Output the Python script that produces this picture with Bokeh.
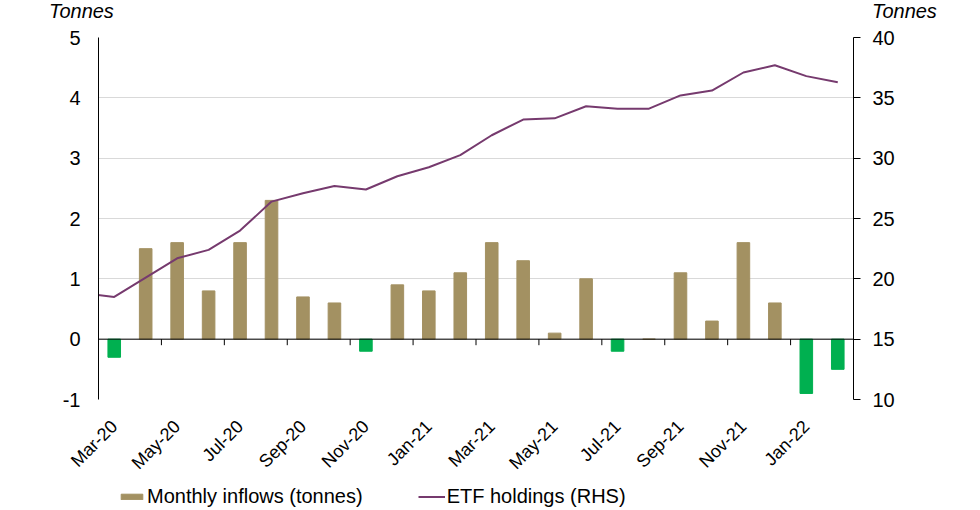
from bokeh.plotting import figure
from bokeh.layouts import column, row
from bokeh.models import (ColumnDataSource, Range1d, LinearAxis, FixedTicker, Span,
                          Legend, LegendItem, Div)
from bokeh.embed import file_html
from bokeh.resources import INLINE

# monthly ETF gold flows, Mar-20 .. Feb-22
months = ["Mar-20", "Apr-20", "May-20", "Jun-20", "Jul-20", "Aug-20", "Sep-20", "Oct-20",
          "Nov-20", "Dec-20", "Jan-21", "Feb-21", "Mar-21", "Apr-21", "May-21", "Jun-21",
          "Jul-21", "Aug-21", "Sep-21", "Oct-21", "Nov-21", "Dec-21", "Jan-22", "Feb-22"]
inflows = [-0.3, 1.5, 1.6, 0.8, 1.6, 2.3, 0.7, 0.6, -0.2, 0.9, 0.8, 1.1,
           1.6, 1.3, 0.1, 1.0, -0.2, 0.0, 1.1, 0.3, 1.6, 0.6, -0.9, -0.5]

# holdings start one month earlier (Feb-20), that point sits just off the left edge
holdings_months = ["Feb-20"] + months
holdings = [18.8, 18.5, 20.1, 21.7, 22.4, 24.0, 26.4, 27.1, 27.7, 27.4, 28.5, 29.25, 30.25,
            31.9, 33.2, 33.3, 34.3, 34.1, 34.1, 35.2, 35.6, 37.1, 37.7, 36.8, 36.3]

left_ticks = [-1, 0, 1, 2, 3, 4, 5]
right_ticks = [10, 15, 20, 25, 30, 35, 40]
tick_months = months[::2]
unit_label = "Tonnes"
series_labels = ["Monthly inflows (tonnes)", "ETF holdings (RHS)"]

TAN = "#A39162"
GREEN = "#00B050"
PURPLE = "#763A6E"
FONT = "Liberation Sans"

bar_src = ColumnDataSource(dict(
    x=[i + 0.5 for i in range(len(months))],
    top=inflows,
    color=[TAN if v >= 0 else GREEN for v in inflows],
))
line_src = ColumnDataSource(dict(
    x=[i - 0.5 for i in range(len(holdings_months))],
    y=holdings,
))

fig = figure(width=972, height=462, output_backend="svg", toolbar_location=None,
             x_range=Range1d(0, len(months)), y_range=Range1d(left_ticks[0], left_ticks[-1]),
             min_border_left=98, min_border_right=119, min_border_top=15, min_border_bottom=85)
fig.outline_line_color = None
fig.xgrid.visible = False
fig.ygrid.ticker = FixedTicker(ticks=left_ticks)
fig.ygrid.grid_line_color = "#D9D9D9"

fig.extra_y_ranges = {"rhs": Range1d(right_ticks[0], right_ticks[-1])}

fig.vbar(x="x", top="top", bottom=0, width=0.4, color="color", source=bar_src)
fig.line(x="x", y="y", source=line_src, y_range_name="rhs", line_color=PURPLE, line_width=2)

# zero line with tick marks at every second month boundary
fig.add_layout(Span(location=0, dimension="width", line_color="black", line_width=1))
bounds = list(range(2, len(months), 2))
fig.segment(x0=bounds, y0=[0] * len(bounds), x1=bounds, y1=[-0.1] * len(bounds),
            line_color="black", line_width=1)

# bottom axis: only labels
xa = fig.xaxis[0]
xa.ticker = FixedTicker(ticks=[i + 0.5 for i in range(0, len(months), 2)])
xa.major_label_overrides = {i + 0.5: m for i, m in zip(range(0, len(months), 2), tick_months)}
xa.major_label_orientation = 0.785398
xa.axis_line_color = None
xa.major_tick_line_color = None
xa.minor_tick_line_color = None
xa.major_label_standoff = 18
xa.major_label_text_font = FONT
xa.major_label_text_font_size = "18px"
xa.major_label_text_color = "black"

ya = fig.yaxis[0]
ya.ticker = FixedTicker(ticks=left_ticks)
ya.major_label_overrides = {t: str(t) for t in left_ticks}
ya.axis_line_color = "black"
ya.major_tick_line_color = None
ya.minor_tick_line_color = None
ya.major_label_standoff = 12
ya.major_label_text_font = FONT
ya.major_label_text_font_size = "20px"
ya.major_label_text_color = "black"

ra = LinearAxis(y_range_name="rhs", ticker=FixedTicker(ticks=right_ticks))
ra.axis_line_color = "black"
ra.major_tick_line_color = "black"
ra.major_tick_in = 0
ra.major_tick_out = 7
ra.minor_tick_line_color = None
ra.major_label_standoff = 12
ra.major_label_text_font = FONT
ra.major_label_text_font_size = "20px"
ra.major_label_text_color = "black"
fig.add_layout(ra, "right")

# legend strip under the chart: same series, viewed through a window that holds none of them
leg = figure(width=972, height=26, output_backend="svg", toolbar_location=None,
             x_range=Range1d(100, 101), y_range=Range1d(100, 101),
             x_axis_type=None, y_axis_type=None, min_border=0)
leg.outline_line_color = None
leg.extra_y_ranges = {"rhs": Range1d(1000, 1001)}
leg_bar = leg.vbar(x="x", top="top", bottom=0, width=0.4, color="color", source=bar_src)
leg_line = leg.line(x="x", y="y", source=line_src, y_range_name="rhs",
                    line_color=PURPLE, line_width=2)
legend = Legend(items=[LegendItem(label=series_labels[0], renderers=[leg_bar], index=1),
                       LegendItem(label=series_labels[1], renderers=[leg_line])],
                orientation="horizontal", location=(20, 2), spacing=55,
                glyph_width=27, glyph_height=7, label_standoff=2, padding=0, margin=0,
                label_text_font=FONT, label_text_font_size="20px", label_text_color="black",
                background_fill_alpha=0, border_line_color=None)
leg.add_layout(legend, "center")

# unit labels over both axes
unit_style = {"font-family": FONT, "font-size": "20px", "font-style": "italic",
              "line-height": "22px", "color": "black"}
left_unit = Div(text=unit_label, width=80, height=22, margin=(0, 0, 0, 49), styles=unit_style)
right_unit = Div(text=unit_label, width=80, height=22, margin=(0, 0, 0, 743), styles=unit_style)
p = column(row(left_unit, right_unit, spacing=0), fig, leg, spacing=0)

open("out.html", "w").write(file_html(p, INLINE))
